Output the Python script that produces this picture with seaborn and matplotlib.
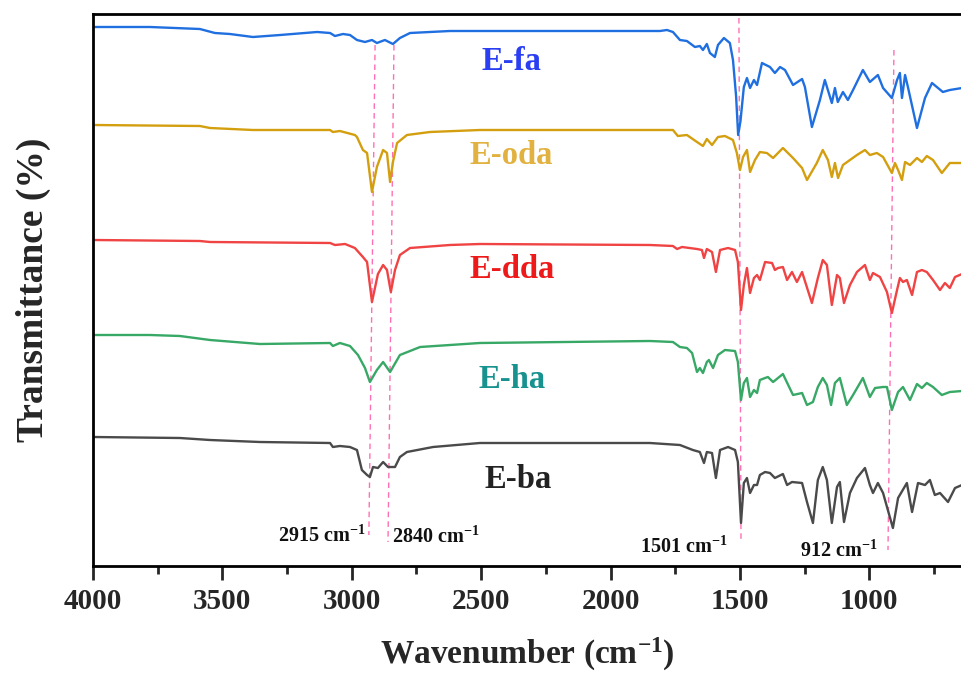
import matplotlib
matplotlib.use("Agg")
import matplotlib.pyplot as plt
import seaborn as sns
import pandas as pd
from matplotlib.ticker import MultipleLocator

# ---------------- data (wavenumber in cm-1, transmittance in a.u. with offsets) -------------
fa_w = [4000, 3780, 3587, 3529, 3471, 3382, 3277, 3134, 3084, 3065, 3034, 3007, 2980, 2949, 2922,
        2903, 2872, 2841, 2814, 2775, 2621, 2350, 2041, 1809, 1782, 1759, 1732, 1705, 1674, 1655,
        1643, 1628, 1616, 1597, 1585, 1562, 1539, 1527, 1515, 1507, 1498, 1485, 1473, 1461, 1446,
        1434, 1415, 1384, 1365, 1345, 1326, 1295, 1260, 1249, 1222, 1191, 1172, 1145, 1133, 1122,
        1102, 1083, 1063, 1025, 998, 967, 947, 913, 893, 882, 874, 862, 851, 816, 785, 758, 716,
        689, 642]
fa_t = [539, 539, 537, 533, 532, 529, 531, 534, 533, 530, 532, 531, 526, 524, 526,
        523, 526, 522, 528, 533, 535, 535, 535, 535, 536, 534, 526, 525, 519, 520,
        516, 522, 513, 509, 521, 528, 523, 506, 470, 431, 445, 479, 488, 478, 486,
        481, 503, 499, 493, 499, 496, 481, 487, 479, 439, 466, 486, 463, 478, 464,
        474, 466, 476, 496, 484, 491, 478, 468, 486, 493, 468, 491, 479, 438, 468, 483, 474,
        476, 478]

oda_w = [4000, 3587, 3548, 3382, 3084, 3073, 3046, 2988, 2980, 2957, 2941, 2922, 2903, 2879, 2864,
         2852, 2841, 2825, 2787, 2698, 2505, 1848, 1759, 1740, 1705, 1666, 1643, 1628, 1608, 1585,
         1558, 1527, 1512, 1500, 1488, 1473, 1461, 1442, 1423, 1396, 1372, 1334, 1295, 1260, 1241,
         1203, 1180, 1160, 1145, 1133, 1121, 1102, 1075, 1048, 1017, 998, 971, 947, 913, 901, 889,
         874, 862, 843, 816, 797, 778, 754, 720, 689, 642]
oda_t = [441, 440, 438, 436, 436, 434, 435, 431, 429, 416, 413, 374, 399, 416, 413,
         384, 404, 423, 431, 434, 436, 436, 436, 430, 431, 424, 420, 427, 421, 429,
         430, 426, 413, 396, 409, 416, 394, 406, 414, 413, 408, 418, 408, 398, 386,
         403, 416, 406, 389, 403, 388, 401, 406, 411, 416, 411, 413, 409, 393, 403, 396,
         386, 404, 401, 408, 404, 410, 406, 393, 403, 403]

dda_w = [4000, 3587, 3548, 3084, 3065, 3026, 2988, 2957, 2941, 2922, 2899, 2879, 2864, 2849, 2833,
         2814, 2775, 2621, 2505, 1848, 1759, 1743, 1724, 1666, 1647, 1639, 1628, 1608, 1593, 1577,
         1546, 1519, 1508, 1496, 1485, 1473, 1461, 1446, 1434, 1423, 1403, 1376, 1365, 1353, 1334,
         1318, 1299, 1280, 1260, 1222, 1199, 1180, 1164, 1145, 1125, 1114, 1098, 1075, 1048, 1017,
         998, 986, 959, 932, 913, 893, 882, 870, 855, 835, 816, 797, 778, 754, 727, 708, 689, 669,
         642]
dda_t = [326, 325, 324, 323, 321, 322, 318, 309, 304, 264, 292, 301, 296, 274, 296,
         311, 318, 321, 322, 321, 320, 317, 319, 317, 316, 308, 317, 314, 294, 316,
         318, 316, 304, 256, 281, 298, 273, 288, 291, 286, 304, 303, 296, 298, 299,
         286, 294, 284, 294, 263, 288, 306, 301, 261, 291, 288, 263, 281, 294, 301,
         286, 293, 289, 274, 253, 276, 288, 284, 286, 271, 294, 296, 294, 286, 276, 283, 278, 289,
         292]

ha_w = [4000, 3780, 3664, 3548, 3355, 3084, 3073, 3046, 3007, 2976, 2949, 2930, 2903, 2879, 2852,
        2814, 2736, 2505, 1848, 1759, 1732, 1705, 1685, 1666, 1655, 1643, 1628, 1620, 1604, 1585,
        1558, 1519, 1508, 1496, 1485, 1473, 1461, 1446, 1434, 1423, 1403, 1392, 1372, 1334, 1295,
        1260, 1241, 1218, 1199, 1180, 1164, 1148, 1133, 1114, 1087, 1063, 1025, 998, 978, 947, 932,
        913, 889, 870, 843, 816, 797, 778, 754, 720, 689, 642]
ha_t = [231, 231, 230, 226, 222, 223, 220, 223, 220, 211, 198, 184, 196, 204, 194,
        211, 219, 223, 225, 224, 219, 218, 213, 194, 198, 193, 204, 206, 198, 211,
        216, 215, 204, 166, 183, 188, 169, 176, 173, 186, 188, 189, 184, 192, 171,
        173, 161, 164, 179, 188, 181, 161, 183, 188, 161, 171, 188, 169, 178, 179, 179,
        156, 174, 179, 166, 182, 178, 183, 179, 171, 174, 175]

ba_w = [4000, 3664, 3548, 3355, 3084, 3073, 3046, 3007, 2980, 2961, 2941, 2930, 2918, 2899, 2879,
        2860, 2841, 2833, 2814, 2787, 2686, 2505, 1848, 1732, 1682, 1655, 1639, 1628, 1608, 1593,
        1577, 1546, 1519, 1508, 1496, 1485, 1473, 1461, 1446, 1434, 1423, 1403, 1384, 1365, 1334,
        1318, 1299, 1260, 1241, 1218, 1199, 1180, 1164, 1145, 1125, 1114, 1098, 1075, 1048, 1017,
        998, 986, 967, 947, 909, 889, 855, 835, 812, 785, 766, 747, 727, 696, 669, 642]
ba_t = [129, 128, 126, 124, 123, 119, 120, 119, 116, 96, 91, 89, 99, 98, 104,
        99, 99, 99, 109, 114, 119, 123, 123, 121, 116, 114, 103, 114, 113, 88,
        116, 119, 116, 104, 43, 83, 88, 73, 81, 81, 91, 94, 93, 88, 92,
        81, 84, 83, 64, 43, 86, 99, 86, 43, 79, 84, 44, 73, 88, 98,
        81, 73, 83, 73, 38, 68, 83, 54, 83, 81, 86, 71, 73, 64, 78, 81]

series_names = ["E-fa", "E-oda", "E-dda", "E-ha", "E-ba"]
series_w = [fa_w, oda_w, dda_w, ha_w, ba_w]
series_t = [fa_t, oda_t, dda_t, ha_t, ba_t]
line_colors = ["#1f6fe0", "#d49f0f", "#f04343", "#38a866", "#4a4a4a"]
label_colors = ["#2b3ff2", "#e2b240", "#ee1a1a", "#17928f", "#222222"]
label_pos = [(2385, 504), (2385, 411), (2380, 296), (2381, 187), (2358, 86)]

peak_labels = ["2915", "2840", "1501", "912"]
peak_lines = [((2910, 521), (2934, 31)), ((2837, 521), (2860, 24)),
              ((1504, 548), (1496, 26)), ((905, 516), (928, 16))]
peak_text = [(2945, 24, "right"), (2845, 23, "left"), (1886, 13, "left"), (1268, 9, "left")]

# ---------------- plotting ----------------
sns.set_style("ticks")
plt.rcParams["font.family"] = ["Liberation Serif", "DejaVu Serif"]
plt.rcParams["font.weight"] = "bold"
plt.rcParams["mathtext.fontset"] = "custom"
plt.rcParams["mathtext.rm"] = "Liberation Serif:bold"
plt.rcParams["mathtext.bf"] = "Liberation Serif:bold"
plt.rcParams["mathtext.default"] = "bf"

fig = plt.figure(figsize=(9.62, 6.74), dpi=100)
ax = fig.add_axes([93 / 962, 1 - 566 / 674, 1 - 93 / 962, 552 / 674])

frames = []
for name, w, t in zip(series_names, series_w, series_t):
    frames.append(pd.DataFrame({"Wavenumber": w, "T": t, "sample": name}))
df = pd.concat(frames, ignore_index=True)

sns.lineplot(data=df, x="Wavenumber", y="T", hue="sample", palette=line_colors,
             hue_order=series_names, estimator=None, sort=True, linewidth=1.7,
             legend=False, ax=ax)

for (x0y0, x1y1) in peak_lines:
    ax.plot([x0y0[0], x1y1[0]], [x0y0[1], x1y1[1]], color="#ff6fb5",
            linestyle=(0, (4, 3)), linewidth=1.0, zorder=1)

for lab, (x, y, ha) in zip(peak_labels, peak_text):
    ax.text(x, y, lab + r" cm$^{-1}$", ha=ha, va="baseline", fontsize=14.5,
            fontweight="bold", color="#111111")

for name, col, (x, y) in zip(series_names, label_colors, label_pos):
    ax.text(x, y, name, color=col, fontsize=23.5, fontweight="bold", ha="center", va="center")

ax.set_xlim(4000, 642)
ax.set_ylim(0, 552)
ax.xaxis.set_major_locator(MultipleLocator(500))
ax.xaxis.set_minor_locator(MultipleLocator(250))
ax.set_yticks([])
ax.tick_params(axis="x", which="major", length=10, width=2, direction="out",
               labelsize=21, pad=6)
ax.tick_params(axis="x", which="minor", length=6, width=2, direction="out")
for lbl in ax.get_xticklabels():
    lbl.set_fontweight("bold")
for s in ["top", "left", "bottom"]:
    ax.spines[s].set_linewidth(2)
    ax.spines[s].set_color("black")
ax.spines["right"].set_visible(False)

ax.set_xlabel(r"Wavenumber (cm$^{-1}$)", fontsize=24, fontweight="bold", labelpad=15)
ax.set_ylabel("Transmittance (%)", fontsize=27, fontweight="bold", labelpad=30)

fig.savefig("out.png", dpi=100)
